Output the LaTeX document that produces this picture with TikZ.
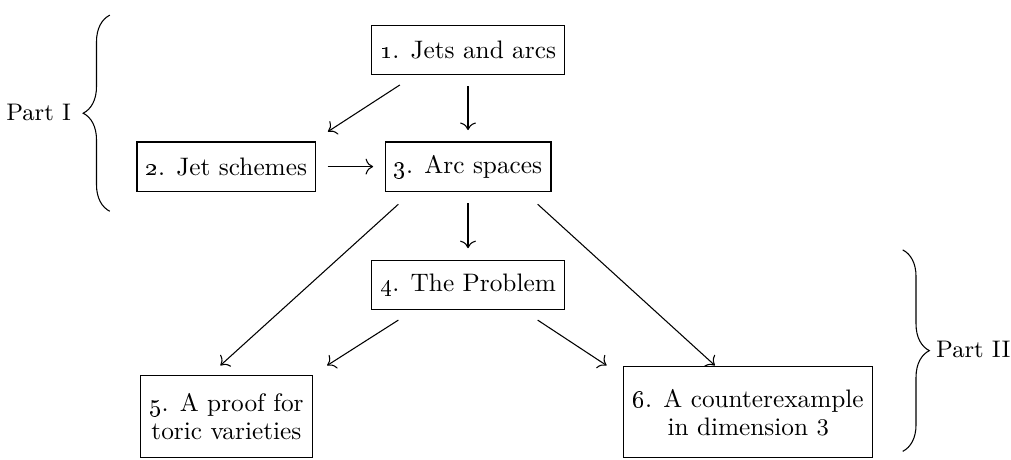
\documentclass[tikz,border=0pt]{standalone}
\usepackage{tikz}
\usetikzlibrary{calc,arrows.meta,decorations.pathreplacing}

\begin{document}
\begin{tikzpicture}[
    chap/.style={rectangle, draw, minimum height=0.65cm, align=center, font=\fontsize{9.5}{10.5}\selectfont},
    arr/.style={-{To[scale=1.15]}},
    gap/.style={shorten <=0.15cm, shorten >=0.15cm},
    partbrace/.style={decorate, decoration={brace, amplitude=10pt}},
    partlabel/.style={inner sep=1pt, font=\fontsize{9}{11}\selectfont}
]
    \useasboundingbox (-6.18,-3.87) rectangle (7.17,2.20);

    % chapters
    \node[chap] (jets) at (0,1.54) {\oldstylenums{1}. Jets and arcs};
    \node[chap] (jetsch) at (-3.19,0) {\oldstylenums{2}. Jet schemes};
    \node[chap] (arcs) at (0,0) {\oldstylenums{3}. Arc spaces};
    \node[chap] (prob) at (0,-1.56) {\oldstylenums{4}. The Problem};
    \node[chap, anchor=south, minimum height=1.09cm] (toric) at (-3.19,-3.85) {\oldstylenums{5}. A proof for\\toric varieties};
    \node[chap, anchor=south, minimum height=1.2cm] (counter) at (3.70,-3.85) {\oldstylenums{6}. A counterexample\\in dimension $3$};

    % arrows
    \draw[arr] ([shift={(-0.9,-0.13)}]jets.south) -- ([shift={(1.34,0.13)}]jetsch.north);
    \draw[arr, gap] (jets) -- (arcs);
    \draw[arr, gap] (jetsch) -- (arcs);
    \draw[arr, gap] (arcs) -- (prob);
    \draw[arr] ([shift={(-0.92,-0.165)}]arcs.south) -- ([shift={(-0.08,0.12)}]toric.north);
    \draw[arr] ([shift={(0.92,-0.165)}]arcs.south) -- ([shift={(-0.44,0.01)}]counter.north);
    \draw[arr] ([shift={(-0.92,-0.135)}]prob.south) -- ([shift={(1.33,0.12)}]toric.north);
    \draw[arr] ([shift={(0.92,-0.135)}]prob.south) -- ([shift={(-1.87,0.01)}]counter.north);

    % parts
    \coordinate (p1bot) at (-4.73,-0.59);
    \coordinate (p1top) at (-4.73,2.0);
    \coordinate (p2top) at (5.74,-1.10);
    \coordinate (p2bot) at (5.74,-3.76);
    \draw[partbrace] (p1bot) -- (p1top);
    \draw[partbrace] (p2top) -- (p2bot);
    \node[partlabel, anchor=east] (part1) at (-5.2,0.72) {Part I};
    \node[partlabel, anchor=west] (part2) at (6.14,-2.42) {Part II};
\end{tikzpicture}
\end{document}
